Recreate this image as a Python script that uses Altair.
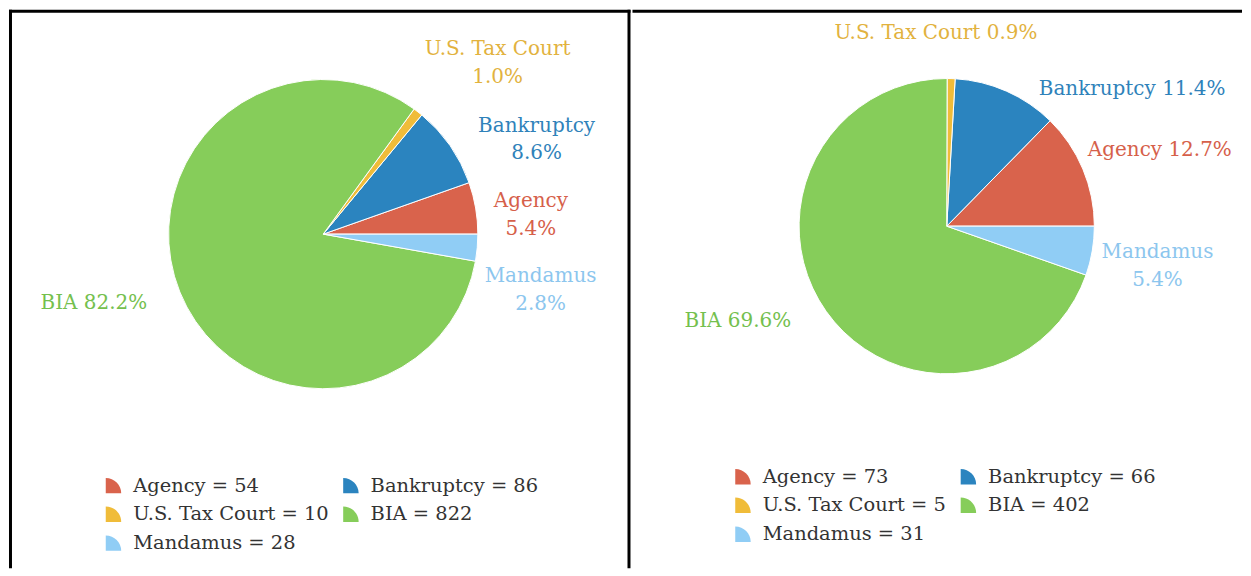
import math
import altair as alt
import pandas as pd

# ---------------- data ----------------
categories = ["Agency", "Bankruptcy", "U.S. Tax Court", "BIA", "Mandamus"]
counts_left = [54, 86, 10, 822, 28]
counts_right = [73, 66, 5, 402, 31]
pct_left = ["5.4%", "8.6%", "1.0%", "82.2%", "2.8%"]
pct_right = ["12.7%", "11.4%", "0.9%", "69.6%", "5.4%"]

# ---------------- styles ----------------
slice_colors = ["#D9634C", "#2B84BF", "#F0BC39", "#86CD5A", "#90CDF5"]
label_colors = ["#D6604A", "#2F82BA", "#E2B23E", "#74C04E", "#8CC6EE"]
FONT = "DejaVu Serif"
QUARTER = "M-1,1 L-1,-1 C0.105,-1 1,-0.105 1,1 Z"

# counter-clockwise order starting at 3 o'clock
ccw_order = ["Agency", "Bankruptcy", "U.S. Tax Court", "BIA", "Mandamus"]

# label layout: (angle shift in degrees from the slice middle, radius px, two lines?)
place_left = {
    "Agency": (-4.5, 209, True),
    "Bankruptcy": (-11.0, 234, True),
    "U.S. Tax Court": (-7.7, 245, True),
    "BIA": (-5.3, 240, False),
    "Mandamus": (-9.4, 225, True),
}
place_right = {
    "Agency": (-3.0, 227, False),
    "Bankruptcy": (-29.7, 231, False),
    "U.S. Tax Court": (4.9, 194, False),
    "BIA": (-10.8, 230, False),
    "Mandamus": (-1.0, 215, True),
}

W1, W2, H = 623, 611, 560
LINE_H = 28


def build_df(counts, pcts, place):
    total = float(sum(counts))
    rows = []
    cum = 0.0
    for cat in ccw_order:
        i = categories.index(cat)
        v = counts[i]
        mid = (cum + v / 2.0) / total * 360.0
        cum += v
        shift, rad, two = place[cat]
        ang = math.radians(mid + shift)
        sep = "\n" if two else " "
        rows.append({
            "category": cat,
            "count": v,
            "legend": f"{cat} = {v}",
            "order": 4 - ccw_order.index(cat),
            "label": f"{cat}{sep}{pcts[i]}",
            "two": two,
            "lt": math.pi / 2 - ang,
            "lr": rad,
            "tcolor": label_colors[i],
        })
    return pd.DataFrame(rows)


def rule(x, x2, y, y2=None):
    enc = dict(x=alt.value(x), y=alt.value(y))
    if x2 is not None:
        enc["x2"] = alt.value(x2)
    if y2 is not None:
        enc["y2"] = alt.value(y2)
    return alt.Chart(alt.Data(values=[{"k": 0}])).mark_rule(
        color="black", strokeWidth=3, strokeCap="square").encode(**enc)


def panel(counts, pcts, place, cx, cy, radius, lx, ly, width, left_borders):
    df = build_df(counts, pcts, place)
    legend_domain = [f"{c} = {counts[i]}" for i, c in enumerate(categories)]
    base = alt.Chart(df)
    arcs = base.mark_arc(outerRadius=radius, stroke="white", strokeWidth=1).encode(
        theta=alt.Theta("count:Q", stack=True,
                        scale=alt.Scale(range=[math.pi / 2, math.pi / 2 + 2 * math.pi])),
        order=alt.Order("order:Q"),
        color=alt.Color(
            "legend:N",
            scale=alt.Scale(domain=legend_domain, range=slice_colors),
            legend=alt.Legend(
                title=None, orient="none", legendX=lx, legendY=ly, columns=2,
                direction="horizontal",
                symbolType=QUARTER, symbolSize=240, symbolStrokeWidth=0,
                labelFont=FONT, labelFontSize=19.5, labelColor="#333333",
                labelOffset=10, rowPadding=8, columnPadding=12,
                labelLimit=400,
            ),
        ),
        x=alt.value(cx),
        y=alt.value(cy),
    )
    text_enc = dict(
        theta=alt.Theta("lt:Q", scale=None, stack=False),
        radius=alt.Radius("lr:Q", scale=None),
        text="label:N",
        fill=alt.Fill("tcolor:N", scale=None),
        x=alt.value(cx),
        y=alt.value(cy),
    )
    single = base.transform_filter("!datum.two").mark_text(
        font=FONT, fontSize=20, align="center", baseline="middle").encode(**text_enc)
    double = base.transform_filter("datum.two").mark_text(
        font=FONT, fontSize=20, lineBreak="\n", lineHeight=LINE_H, dy=-LINE_H / 2,
        align="center", baseline="middle").encode(**text_enc)
    rules = [rule(1.5, width - 1.5, 1.5)]
    if left_borders:
        rules.append(rule(1.5, None, 1.5, H - 1.5))
        rules.append(rule(width - 1.5, None, 1.5, H - 1.5))
    return alt.layer(arcs, single, double, *rules).resolve_scale(
        theta="independent").properties(width=width, height=H)


left = panel(counts_left, pct_left, place_left, 315, 225, 155, 95, 467, W1, True)
right = panel(counts_right, pct_right, place_right, 315, 217, 148, 101, 458, W2, False)

chart = alt.hconcat(left, right, spacing=0).resolve_scale(color="independent").properties(
    padding={"left": 0, "top": 0, "right": 0, "bottom": 0}
).configure_view(stroke=None)

chart.save("out.html", embed_options={"renderer": "svg", "actions": False})
